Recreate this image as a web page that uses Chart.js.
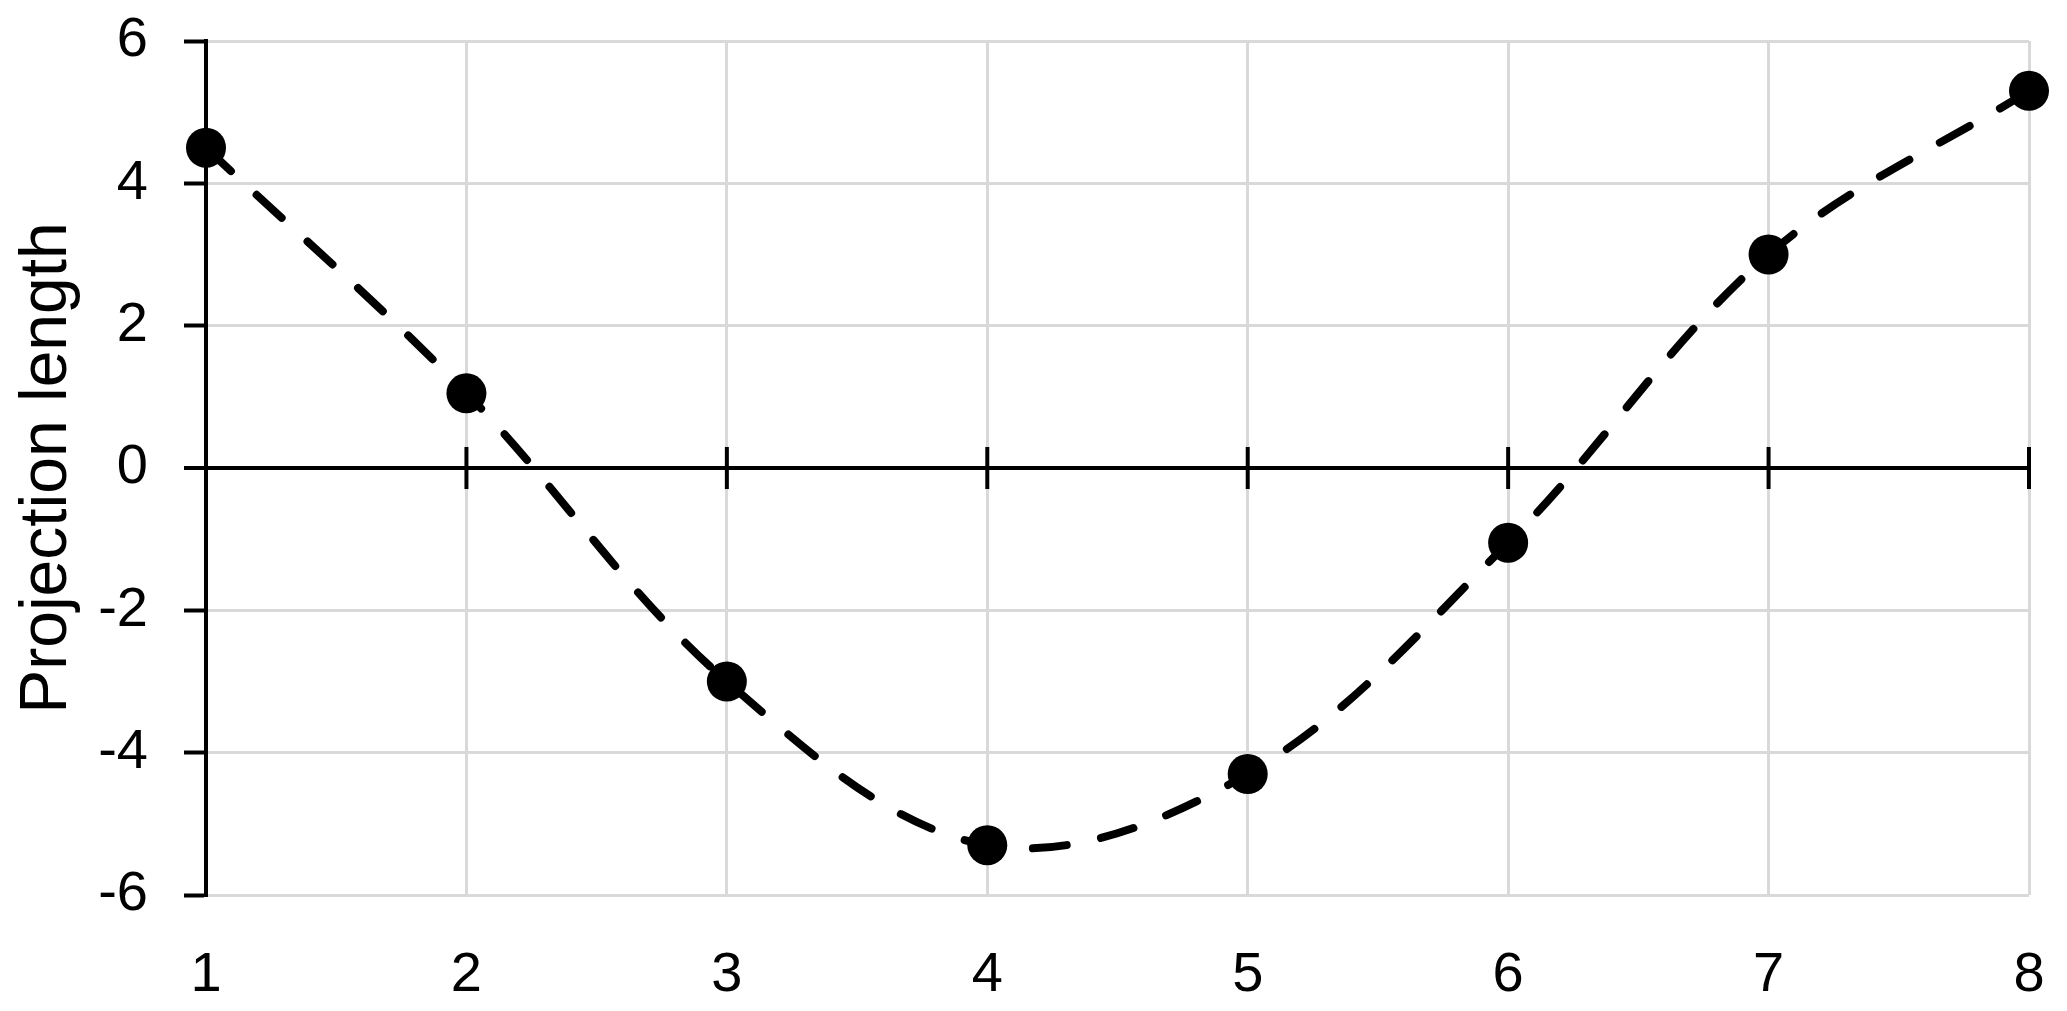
<!DOCTYPE html>
<html>
<head>
<meta charset="utf-8">
<script src="https://cdn.jsdelivr.net/npm/chart.js@4/dist/chart.umd.min.js"></script>
<style>
  html, body { margin: 0; padding: 0; background: #fff; }
  #wrap { width: 2067px; height: 1011px; }
</style>
</head>
<body>
<div id="wrap"><canvas id="chart" width="2067" height="1011"></canvas></div>
<script>
// chart data
const xValues = [1, 2, 3, 4, 5, 6, 7, 8];
const projection = [4.5, 1.05, -3.0, -5.3, -4.3, -1.05, 3.0, 5.3];
const yTicks = [-6, -4, -2, 0, 2, 4, 6];

const GRID = '#d9d9d9';
const FONT = '"Liberation Sans", Arial, Helvetica, sans-serif';

// small tick marks crossing the zero line at every x value
const zeroTicks = {
  id: 'zeroTicks',
  beforeDatasetsDraw(chart) {
    const { ctx, scales } = chart;
    const y0 = scales.y.getPixelForValue(0);
    ctx.save();
    ctx.strokeStyle = '#000';
    ctx.lineWidth = 4;
    xValues.slice(1).forEach(v => {
      const px = scales.x.getPixelForValue(v);
      ctx.beginPath();
      ctx.moveTo(px, y0 - 21);
      ctx.lineTo(px, y0 + 21);
      ctx.stroke();
    });
    ctx.restore();
  }
};

new Chart(document.getElementById('chart').getContext('2d'), {
  type: 'line',
  data: {
    datasets: [{
      data: xValues.map((x, i) => ({ x: x, y: projection[i] })),
      borderColor: '#000',
      borderWidth: 8,
      borderDash: [34, 35],
      borderCapStyle: 'round',
      tension: 0.35,
      pointRadius: 20,
      pointHoverRadius: 20,
      pointBackgroundColor: '#000',
      pointBorderWidth: 0,
      clip: false
    }]
  },
  plugins: [zeroTicks],
  options: {
    responsive: false,
    animation: false,
    layout: { autoPadding: false, padding: { left: 0, right: 38, top: 41, bottom: 0 } },
    plugins: {
      legend: { display: false },
      tooltip: { enabled: false }
    },
    scales: {
      x: {
        type: 'linear',
        min: 1,
        max: 8,
        afterFit: s => { s.height = 116; s.paddingLeft = 0; s.paddingRight = 0; },
        border: { display: false },
        grid: { color: GRID, lineWidth: 3, drawTicks: false },
        ticks: {
          stepSize: 1,
          padding: 47,
          color: '#000',
          font: { family: FONT, size: 56 }
        }
      },
      y: {
        min: -6,
        max: 6,
        afterFit: s => { s.width = 206; s.paddingTop = 0; s.paddingBottom = 0; },
        afterBuildTicks: s => { s.ticks = yTicks.map(v => ({ value: v })); },
        border: { display: true, color: '#000', width: 4 },
        grid: {
          color: c => (c.tick && c.tick.value === 0) ? '#000' : GRID,
          lineWidth: c => (c.tick && c.tick.value === 0) ? 4 : 3,
          tickColor: '#000',
          tickLength: 22,
          tickWidth: 4
        },
        ticks: {
          padding: 36,
          color: '#000',
          font: { family: FONT, size: 56 }
        },
        title: {
          display: true,
          text: 'Projection length',
          color: '#000',
          padding: { top: 8, bottom: 0 },
          font: { family: FONT, size: 66 }
        }
      }
    }
  }
});
</script>
</body>
</html>
